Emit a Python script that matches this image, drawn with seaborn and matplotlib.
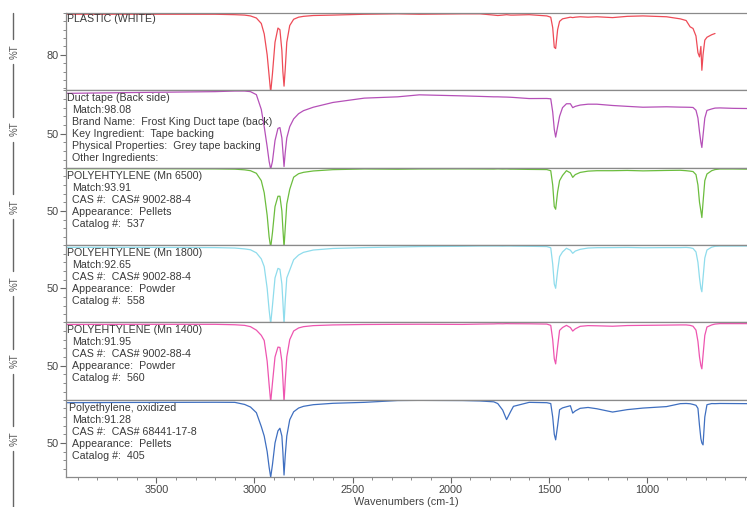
import numpy as np
import pandas as pd
import seaborn as sns
import matplotlib.pyplot as plt
from matplotlib.lines import Line2D
from matplotlib.ticker import MultipleLocator

# wavenumber grid (cm-1), shared by all spectra
wavenumbers = [3960, 3600, 3200, 3100, 3050, 3020, 2990, 2965, 2950, 2935,
               2925, 2917, 2908, 2895, 2880, 2870, 2860, 2855, 2849, 2843,
               2835, 2820, 2800, 2775, 2750, 2700, 2600, 2440, 2270, 2160,
               1940, 1850, 1780, 1760, 1735, 1715, 1695, 1680, 1600, 1510,
               1490, 1480, 1472, 1465, 1455, 1445, 1430, 1410, 1390, 1378,
               1365, 1340, 1300, 1255, 1175, 1100, 1020, 900, 830, 800,
               780, 765, 750, 740, 732, 725, 720, 714, 705, 694,
               670, 653, 628, 560, 490]

plastic_white = [89.7, 89.7, 89.7, 89.6, 89.5, 89.3, 88.8, 87.5, 85.0, 80.0,
                 75.0, 71.0, 75.5, 83.0, 86.4, 86.0, 81.0, 76.0, 72.5, 76.5,
                 83.0, 87.0, 88.5, 89.0, 89.2, 89.4, 89.5, 89.7, 89.8, 89.7,
                 89.8, 89.8, 89.5, 89.4, 89.5, 89.6, 89.5, 89.5, 89.6, 89.3,
                 89.0, 86.5, 81.8, 81.5, 86.0, 88.0, 88.6, 88.8, 89.0, 88.9,
                 89.0, 89.1, 89.0, 89.1, 88.9, 89.2, 89.3, 89.1, 88.6, 88.2,
                 86.7, 86.3, 84.5, 80.5, 79.5, 82.0, 76.3, 80.0, 83.5, 84.2,
                 84.8, 85.1, np.nan, np.nan, np.nan]

duct_tape = [96.5, 97.5, 98.5, 99.2, 99.2, 98.5, 95.0, 78.0, 58.0, 35.0,
             18.0, 9.0, 18.0, 42.0, 56.0, 57.0, 45.0, 30.0, 12.0, 28.0,
             45.0, 58.0, 67.0, 73.0, 76.5, 80.5, 86.0, 91.0, 92.5, 94.8,
             93.6, 93.0, 92.5, 92.5, 92.3, 92.2, 92.0, 91.8, 90.5, 90.6,
             90.2, 75.0, 55.0, 46.0, 58.0, 70.0, 80.0, 84.5, 84.5, 80.0,
             81.5, 83.0, 84.0, 84.0, 82.5, 81.5, 80.5, 81.0, 80.6, 80.5,
             80.4, 80.2, 77.0, 68.0, 52.0, 40.0, 34.0, 48.0, 68.0, 76.8,
             78.5, 79.5, 79.7, 79.2, 79.0]

pe_6500 = [98.8, 98.8, 98.6, 98.3, 97.5, 96.5, 93.5, 85.0, 71.0, 45.0,
           20.0, 8.0, 25.0, 55.0, 67.0, 67.0, 50.0, 30.0, 8.0, 30.0,
           58.0, 75.0, 89.0, 93.0, 94.6, 96.2, 97.7, 98.5, 98.2, 98.5,
           98.6, 98.5, 98.4, 98.6, 98.4, 98.5, 98.3, 98.3, 98.0, 97.8,
           96.5, 80.0, 55.0, 52.0, 72.0, 85.0, 91.0, 96.5, 94.0, 88.8,
           92.0, 94.5, 96.0, 96.5, 96.5, 96.8, 96.3, 96.8, 97.0, 96.5,
           96.0, 95.5, 92.0, 80.0, 60.0, 50.0, 42.4, 60.0, 85.0, 92.7,
           96.5, 97.8, 98.5, 98.5, 98.3]

pe_1800 = [97.3, 97.3, 97.0, 96.5, 95.5, 94.5, 91.0, 84.0, 75.0, 50.0,
           25.0, 9.0, 30.0, 62.0, 73.0, 72.0, 55.0, 35.0, 9.0, 35.0,
           62.0, 71.0, 83.0, 88.4, 91.5, 94.2, 96.0, 97.0, 97.7, 98.2,
           98.5, 98.8, 98.8, 98.8, 98.7, 98.8, 98.8, 98.7, 98.5, 98.2,
           96.8, 78.0, 55.0, 50.0, 70.0, 86.5, 92.0, 96.2, 94.0, 90.4,
           93.0, 95.0, 96.5, 96.9, 97.0, 97.2, 96.8, 97.0, 97.0, 97.2,
           96.8, 96.0, 92.0, 80.0, 62.0, 50.0, 46.0, 62.0, 85.0, 94.2,
           97.5, 98.5, 98.8, 98.8, 98.8]

pe_1400 = [97.5, 97.7, 97.7, 97.2, 96.5, 95.0, 91.0, 85.0, 79.0, 55.0,
           28.0, 8.0, 30.0, 60.0, 71.4, 71.0, 55.0, 35.0, 8.0, 32.0,
           60.0, 80.0, 90.0, 93.5, 95.0, 96.2, 97.0, 97.5, 97.7, 97.8,
           97.6, 98.0, 98.2, 98.4, 98.3, 98.5, 98.4, 98.4, 98.3, 98.0,
           96.5, 80.0, 58.0, 52.0, 72.0, 90.7, 94.0, 96.5, 94.0, 89.9,
           92.5, 95.4, 96.2, 96.0, 95.5, 96.3, 96.5, 96.8, 97.0, 97.0,
           96.5, 95.5, 91.0, 78.0, 60.0, 50.0, 46.3, 62.0, 85.0, 94.6,
           97.0, 98.0, 98.5, 98.5, 98.5]

pe_oxidized = [96.5, 96.8, 97.0, 96.9, 94.5, 91.5, 85.0, 69.0, 58.0, 40.0,
               22.0, 10.5, 25.0, 50.0, 64.0, 67.0, 58.0, 40.0, 13.0, 35.0,
               58.0, 76.8, 86.0, 90.3, 92.3, 94.2, 95.8, 96.9, 99.0, 99.2,
               99.0, 98.5, 97.5, 95.5, 88.0, 77.0, 86.0, 92.3, 96.9, 96.5,
               95.5, 80.0, 60.0, 53.6, 70.0, 88.4, 90.5, 91.8, 93.0, 84.5,
               87.0, 90.0, 91.0, 89.5, 85.7, 88.5, 90.3, 92.0, 95.4, 95.6,
               95.3, 94.5, 93.5, 90.0, 70.0, 55.0, 50.0, 47.8, 80.0, 94.2,
               95.5, 95.4, 95.6, 95.5, 95.4]

series = [plastic_white, duct_tape, pe_6500, pe_1800, pe_1400, pe_oxidized]
colors = ["#ee4b57", "#b550b8", "#6cbd3e", "#8fdcec", "#ee55b0", "#3f6fc0"]
titles = ["PLASTIC (WHITE)", "Duct tape (Back side)", "POLYEHTYLENE (Mn 6500)",
          "POLYEHTYLENE (Mn 1800)", "POLYEHTYLENE (Mn 1400)", "Polyethylene, oxidized"]
details = [
    [],
    ["Match:98.08", "Brand Name:  Frost King Duct tape (back)",
     "Key Ingredient:  Tape backing", "Physical Properties:  Grey tape backing",
     "Other Ingredients:"],
    ["Match:93.91", "CAS #:  CAS# 9002-88-4", "Appearance:  Pellets", "Catalog #:  537"],
    ["Match:92.65", "CAS #:  CAS# 9002-88-4", "Appearance:  Powder", "Catalog #:  558"],
    ["Match:91.95", "CAS #:  CAS# 9002-88-4", "Appearance:  Powder", "Catalog #:  560"],
    ["Match:91.28", "CAS #:  CAS# 68441-17-8", "Appearance:  Pellets", "Catalog #:  405"],
]
ytick_vals = [80, 50, 50, 50, 50, 50]

sns.set_style("white")
plt.rcParams['font.family'] = ['Liberation Sans', 'DejaVu Sans']

fig = plt.figure(figsize=(7.47, 5.07), dpi=100)
axes = fig.subplots(6, 1, sharex=True, gridspec_kw={"hspace": 0})
fig.subplots_adjust(left=66/747, right=1.0, top=1-13/507, bottom=1-477/507)

txt_color = "#3a3a3a"
spine_color = "#8a8a8a"

for i, ax in enumerate(axes):
    df = pd.DataFrame({"wn": wavenumbers, "t": series[i]}).dropna()
    sns.lineplot(data=df, x="wn", y="t", ax=ax, color=colors[i],
                 linewidth=0.9, estimator=None)
    ax.set_xlim(3960, 490)
    if i == 0:
        ax.set_ylim(71.5, 90)
        ax.yaxis.set_minor_locator(MultipleLocator(2))
    else:
        ax.set_ylim(10.7, 100)
        ax.yaxis.set_minor_locator(MultipleLocator(10))
    ax.set_yticks([ytick_vals[i]])
    ax.set_ylabel("%T", fontsize=7, color="#555555")
    ax.yaxis.set_label_coords(-0.0675, 0.5)
    ax.set_xlabel("")
    for s in ax.spines.values():
        s.set_color(spine_color)
        s.set_linewidth(0.9)
    ax.spines["right"].set_visible(False)
    ax.tick_params(axis="y", which="major", direction="out", length=4, width=0.8,
                   color="#666666", labelsize=7.8, labelcolor="#444444", pad=1, left=True)
    ax.tick_params(axis="y", which="minor", direction="out", length=2, width=0.6,
                   color="#777777", left=True)

    # sample name and library info
    ty = 0.92 if i == 0 else 0.895
    tx = 0.004 if i == 5 else 0.002
    ax.text(tx, ty, titles[i], transform=ax.transAxes, ha="left", va="center",
            fontsize=7.7, color=txt_color)
    for k, line in enumerate(details[i]):
        ax.text(0.009, 0.74 - k * 0.155, line, transform=ax.transAxes,
                ha="left", va="center", fontsize=7.7, color=txt_color)

    if i < 5:
        ax.tick_params(axis="x", which="both", bottom=False, labelbottom=False)

bottom = axes[-1]
bottom.xaxis.set_major_locator(MultipleLocator(500))
bottom.xaxis.set_minor_locator(MultipleLocator(100))
bottom.set_xticks([3500, 3000, 2500, 2000, 1500, 1000])
bottom.tick_params(axis="x", which="major", direction="out", length=4, width=0.8,
                   color="#666666", labelsize=7.8, labelcolor="#444444", pad=2, bottom=True)
bottom.tick_params(axis="x", which="minor", direction="out", length=2, width=0.6,
                   color="#777777", bottom=True)
bottom.set_xlabel("Wavenumbers (cm-1)", fontsize=7.8, color="#444444", labelpad=1)

# broken vertical rule left of the %T labels
x_rule = 13 / 747
gap = 12.5 / 507
ys = [axes[0].get_position().y1]
for ax in axes:
    p = ax.get_position()
    c = (p.y0 + p.y1) / 2
    ys += [c + gap, c - gap]
ys.append(0.0)
for a, b in zip(ys[0::2], ys[1::2]):
    fig.add_artist(Line2D([x_rule, x_rule], [a, b], color="#666666", linewidth=1,
                          transform=fig.transFigure))

fig.savefig("out.png", dpi=100)
